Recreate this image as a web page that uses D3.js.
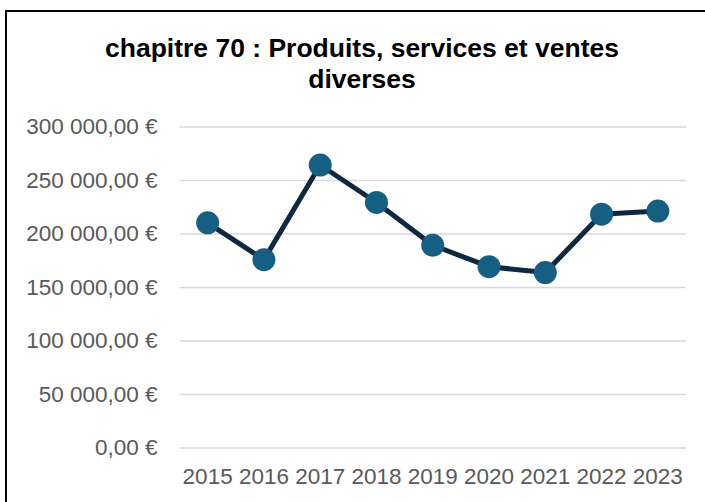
<!DOCTYPE html>
<html>
<head>
<meta charset="utf-8">
<script src="https://cdn.jsdelivr.net/npm/d3@7"></script>
<style>
  body { margin: 0; background: #fff; }
  text { font-family: 'Liberation Sans', Arial, sans-serif; }
</style>
</head>
<body>
<div id="canvas"></div>
<script>
const years = ['2015', '2016', '2017', '2018', '2019', '2020', '2021', '2022', '2023']
const values = [210000, 175500, 264000, 229000, 189000, 169000, 163500, 218000, 221000]
const yTicks = [0, 50000, 100000, 150000, 200000, 250000, 300000]
const titleLines = ['chapitre 70 : Produits, services et ventes', 'diverses']

const width = 705
const height = 502
const margin = { top: 126.5, left: 179.5, bottom: 54.5, right: 19 }

const svg = d3.select('#canvas').append('svg')
  .attr('width', width)
  .attr('height', height)

// cadre du graphique
svg.append('rect')
  .attr('x', 6).attr('y', 11)
  .attr('width', 720).attr('height', 520)
  .attr('fill', 'none')
  .attr('stroke', '#000')
  .attr('stroke-width', 2)

// titre
svg.append('g').selectAll('text').data(titleLines).enter().append('text')
  .attr('x', 362)
  .attr('y', (d, i) => 57 + i * 31)
  .attr('text-anchor', 'middle')
  .style('font-size', '26.5px')
  .style('font-weight', 'bold')
  .attr('fill', '#000')
  .text((d) => d)

const fr = d3.formatLocale({ decimal: ',', thousands: ' ', grouping: [3], currency: ['', ' €'] })
const fmt = fr.format('$,.2f')

const x = d3.scaleBand().domain(years).range([margin.left, width - margin.right])
const y = d3.scaleLinear().domain([0, 300000]).range([height - margin.bottom, margin.top])

// axe y + grille
const yAxis = svg.append('g')
  .attr('transform', `translate(${margin.left},0)`)
  .call(d3.axisLeft(y).tickValues(yTicks).tickFormat(fmt)
    .tickSize(-(width - margin.right - margin.left)).tickPadding(22))
yAxis.select('.domain').remove()
yAxis.selectAll('line').attr('stroke', '#D9D9D9').attr('stroke-width', 1.5)
yAxis.selectAll('text').attr('fill', '#595959').style('font-size', '22.5px')

// axe x
const xAxis = svg.append('g')
  .attr('transform', `translate(0,${height - margin.bottom})`)
  .call(d3.axisBottom(x).tickSize(0).tickPadding(21))
xAxis.select('.domain').remove()
xAxis.selectAll('text').attr('fill', '#595959').style('font-size', '22.5px')

// ligne
const line = d3.line()
  .x((d, i) => x(years[i]) + x.bandwidth() / 2)
  .y((d) => y(d))

svg.append('path')
  .datum(values)
  .attr('d', line)
  .attr('fill', 'none')
  .attr('stroke', '#0E2841')
  .attr('stroke-width', 5)
  .attr('stroke-linejoin', 'round')

// marqueurs
svg.selectAll('circle.pt').data(values).enter().append('circle')
  .attr('class', 'pt')
  .attr('cx', (d, i) => x(years[i]) + x.bandwidth() / 2)
  .attr('cy', (d) => y(d))
  .attr('r', 11.5)
  .attr('fill', '#156082')
</script>
</body>
</html>
